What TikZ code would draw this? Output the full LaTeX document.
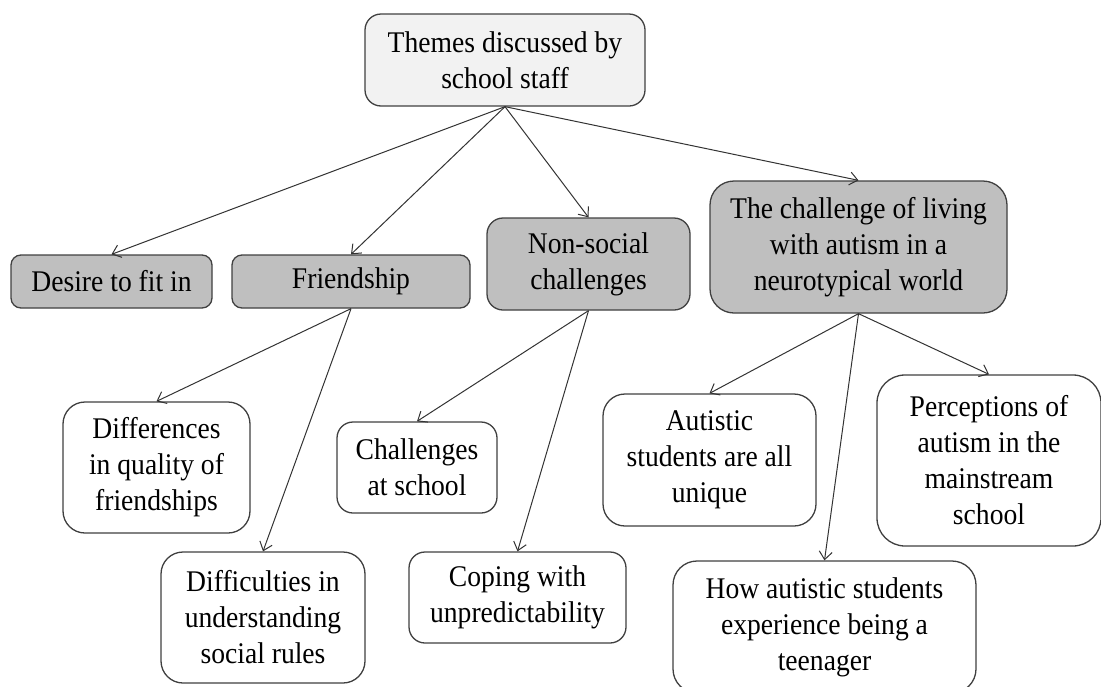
\documentclass[tikz,border=0pt]{standalone}
\usepackage{fontspec}
\setmainfont[FakeStretch=0.92]{Liberation Serif}
\usetikzlibrary{arrows.meta}
\definecolor{edgec}{HTML}{404040}
\definecolor{darkbox}{HTML}{BFBFBF}
\definecolor{lightbox}{HTML}{F2F2F2}
\definecolor{arrc}{HTML}{333333}
\begin{document}
\begin{tikzpicture}[x=1pt,y=-1pt,
  box/.style={draw=edgec, line width=1.3pt, align=center, inner sep=0pt,
    font=\fontsize{30}{36}\selectfont, anchor=center},
  topbox/.style={box, fill=lightbox, rounded corners=16pt},
  themebox/.style={box, fill=darkbox},
  subbox/.style={box, fill=white},
  arr/.style={draw=arrc, line width=1pt, -{Straight Barb[length=8pt,width=13pt,line width=1pt]}}
]
\useasboundingbox (0,0) rectangle (1101,686);

\node[topbox, minimum width=280pt, minimum height=92pt] (root) at (505,60) {Themes discussed by\\school staff};

\node[themebox, rounded corners=10pt, minimum width=201pt, minimum height=53pt] (desire) at (111.5,281.5) {Desire to fit in};
\node[themebox, rounded corners=10pt, minimum width=238pt, minimum height=53pt] (friend) at (351,281.5) {Friendship};
\node[themebox, rounded corners=16pt, minimum width=203pt, minimum height=92pt] (nonsoc) at (588.5,264) {Non-social\\challenges};
\node[themebox, rounded corners=24pt, minimum width=297pt, minimum height=132pt] (living) at (858.5,247) {The challenge of living\\with autism in a\\neurotypical world};

\node[subbox, rounded corners=22pt, minimum width=187pt, minimum height=131pt] (diff) at (156.5,467.5) {Differences\\in quality of\\friendships};
\node[subbox, rounded corners=22pt, minimum width=204pt, minimum height=131pt] (rules) at (263,617.5) {Difficulties in\\understanding\\social rules};
\node[subbox, rounded corners=16pt, minimum width=160pt, minimum height=91pt] (school) at (417,467.5) {Challenges\\at school};
\node[subbox, rounded corners=16pt, minimum width=217pt, minimum height=91pt] (coping) at (517.5,597.5) {Coping with\\unpredictability};
\node[subbox, rounded corners=22pt, minimum width=213pt, minimum height=132pt] (unique) at (709.5,460) {Autistic\\students are all\\unique};
\node[subbox, rounded corners=28pt, minimum width=224pt, minimum height=171pt] (percep) at (989,460.5) {Perceptions of\\autism in the\\mainstream\\school};
\node[subbox, rounded corners=24pt, minimum width=303pt, minimum height=132pt] (teen) at (824.5,627) {How autistic students\\experience being a\\teenager};

\draw[arr] (root.south) -- (desire.north);
\draw[arr] (root.south) -- (friend.north);
\draw[arr] (root.south) -- (nonsoc.north);
\draw[arr] (root.south) -- (living.north);
\draw[arr] (friend.south) -- (diff.north);
\draw[arr] (friend.south) -- (rules.north);
\draw[arr] (nonsoc.south) -- (school.north);
\draw[arr] (nonsoc.south) -- (coping.north);
\draw[arr] (living.south) -- (unique.north);
\draw[arr] (living.south) -- (teen.north);
\draw[arr] (living.south) -- (percep.north);
\end{tikzpicture}
\end{document}
